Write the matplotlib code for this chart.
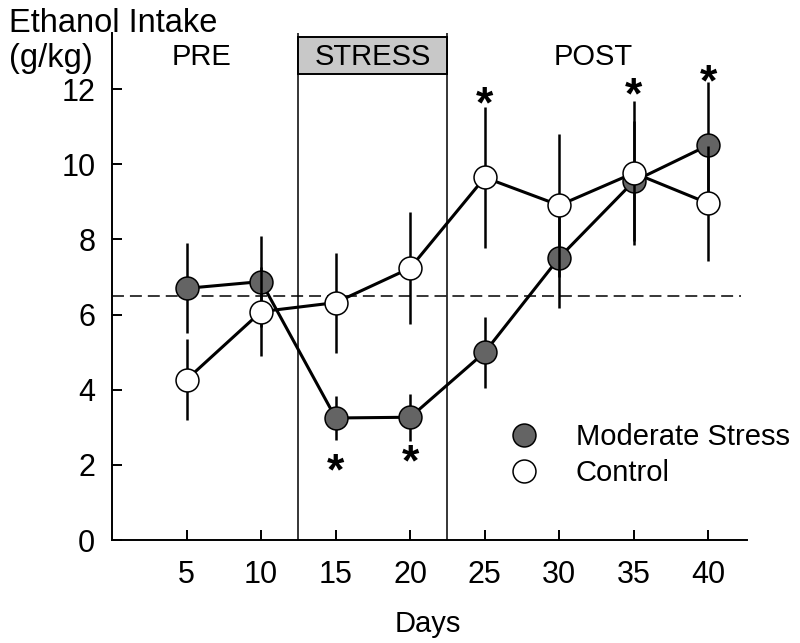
import matplotlib
matplotlib.use("Agg")
import matplotlib.pyplot as plt
from matplotlib.patches import Rectangle
from matplotlib.lines import Line2D

plt.rcParams['font.family'] = ['Liberation Sans', 'DejaVu Sans']
plt.rcParams['lines.scale_dashes'] = False

days = [5, 10, 15, 20, 25, 30, 35, 40]
stress_mean = [6.7, 6.88, 3.25, 3.27, 5.0, 7.52, 9.55, 10.51]
stress_err = [1.2, 1.22, 0.58, 0.62, 0.95, 1.35, 1.6, 1.67]
control_mean = [4.27, 6.08, 6.32, 7.24, 9.65, 8.91, 9.77, 8.96]
control_err = [1.07, 1.18, 1.33, 1.48, 1.87, 1.9, 1.92, 1.54]

star_days = [15, 20, 25, 35, 40]
star_y = [1.8, 2.02, 11.55, 11.8, 12.15]

baseline = 6.5
stress_start, stress_end = 12.5, 22.5
phase_labels = ["PRE", "STRESS", "POST"]
phase_x = [6, 17.5, 32.3]

gray = '#646464'

fig = plt.figure(figsize=(8, 6.43), dpi=100)
ax = fig.add_axes([0.14, 0.160, 0.794, 0.789])

ax.axvline(stress_start, color='black', lw=1.1, zorder=1)
ax.axvline(stress_end, color='black', lw=1.1, zorder=1)
ax.axhline(baseline, xmin=0, xmax=0.99, color='black', lw=1.1,
           dashes=(8.6, 4.3), zorder=1)

ax.add_patch(Rectangle((stress_start, 12.4), stress_end - stress_start, 1.0,
                       facecolor='#c8c8c8', edgecolor='black', lw=1.4,
                       clip_on=False, zorder=2))

for lab, x in zip(phase_labels, phase_x):
    ax.text(x, 12.64, lab, ha='center', va='baseline', fontsize=21, zorder=3)

ax.errorbar(days, stress_mean, yerr=stress_err, fmt='-o', color='black',
            lw=2.2, elinewidth=1.8, capsize=0, ms=16.5, mfc=gray,
            mec='black', mew=1.1, zorder=4)
ax.errorbar(days, control_mean, yerr=control_err, fmt='-o', color='black',
            lw=2.2, elinewidth=1.8, capsize=0, ms=16.5, mfc='white',
            mec='black', mew=1.1, zorder=5)

for x, y in zip(star_days, star_y):
    ax.text(x, y, '*', ha='center', va='center', fontsize=32,
            fontweight='bold', zorder=6)

ax.set_xlim(0, 42.6)
ax.set_ylim(0, 13.5)
ax.set_xticks(days)
ax.set_yticks([0, 2, 4, 6, 8, 10, 12])
ax.spines['top'].set_visible(False)
ax.spines['right'].set_visible(False)
for s in ['left', 'bottom']:
    ax.spines[s].set_linewidth(1.4)
ax.tick_params(direction='in', length=7, width=1.4, labelsize=22)
ax.tick_params(axis='x', pad=14)
ax.tick_params(axis='y', pad=12)

handles = [
    Line2D([], [], ls='none', marker='o', ms=16.5, mfc=gray, mec='black', mew=1.1),
    Line2D([], [], ls='none', marker='o', ms=16.5, mfc='white', mec='black', mew=1.1),
]
ax.legend(handles, ['Moderate Stress', 'Control'], loc='upper left',
          bbox_to_anchor=(0.626, 0.231), frameon=False, fontsize=21,
          handlelength=1, handletextpad=1.26, borderpad=0, borderaxespad=0,
          labelspacing=0.27, numpoints=1)

fig.text(0.011, 1 - 32 / 643, 'Ethanol Intake', fontsize=23.5, va='baseline')
fig.text(0.011, 1 - 67 / 643, '(g/kg)', fontsize=23.5, va='baseline')
fig.text(0.535, 1 - 632 / 643, 'Days', fontsize=21, ha='center', va='baseline')

fig.savefig('out.png', dpi=100)
